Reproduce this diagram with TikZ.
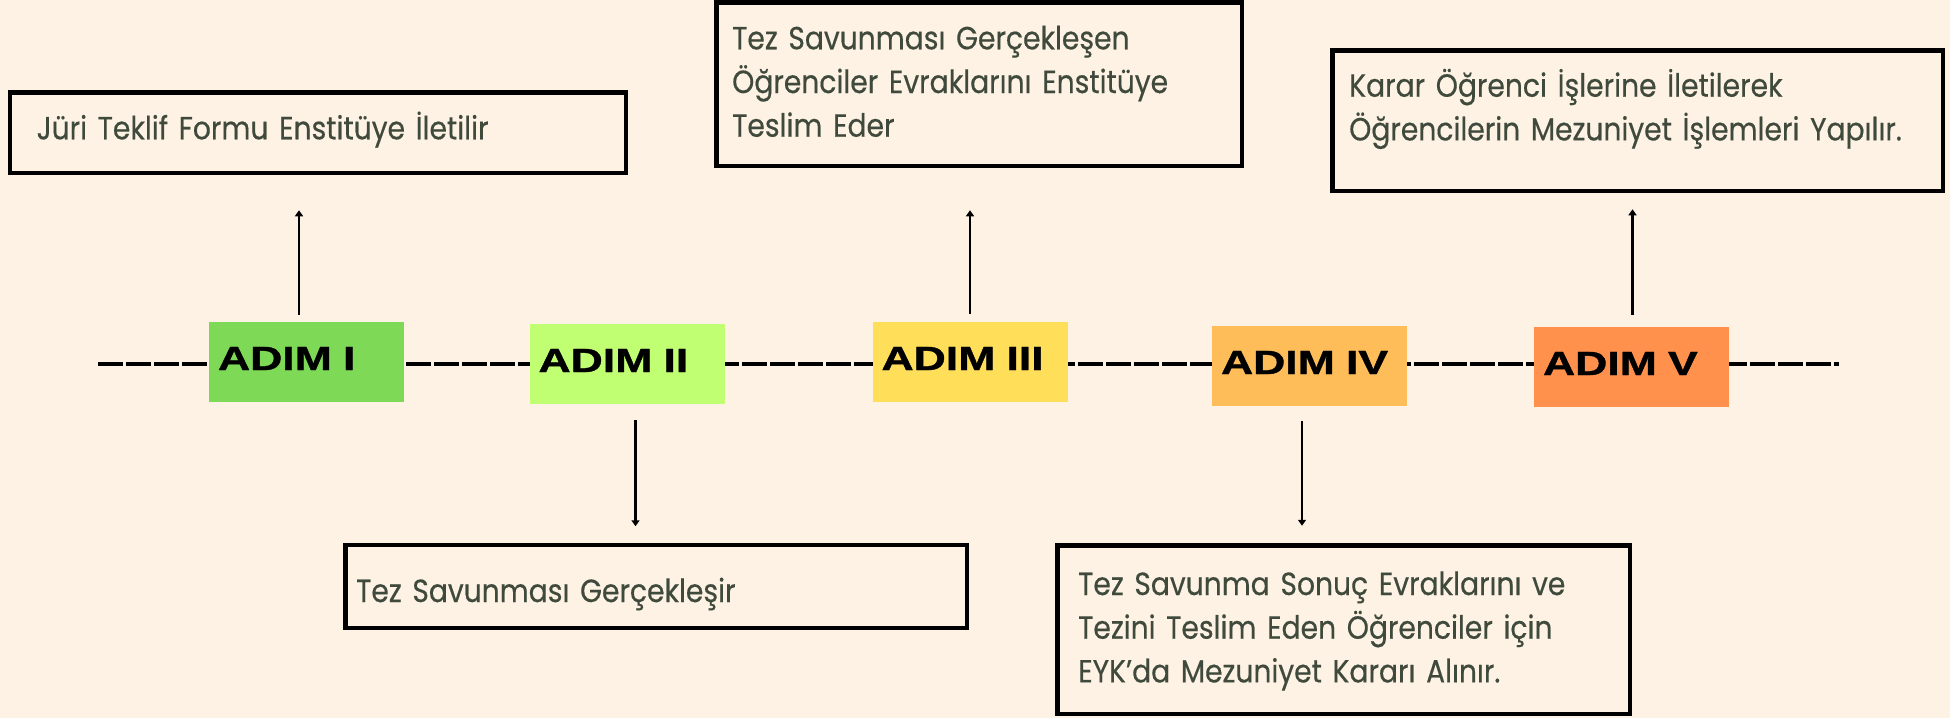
\documentclass[tikz,border=0pt]{standalone}
\usepackage{fontspec}
\usetikzlibrary{arrows.meta}
\newfontfamily\bodyfont{Poppins}[FakeStretch=0.88,FakeBold=0.4]
\newfontfamily\adimfont{Liberation Sans}[FakeStretch=1.33,FakeBold=1.2]
\definecolor{bg}{HTML}{FDF2E4}
\definecolor{txtc}{HTML}{3F4A3C}
\definecolor{cA}{HTML}{7ED957}
\definecolor{cB}{HTML}{C1FF72}
\definecolor{cC}{HTML}{FFDE59}
\definecolor{cD}{HTML}{FFBD59}
\definecolor{cE}{HTML}{FF914D}
\tikzset{
  adim/.style={rectangle, draw=none, minimum width=195pt, minimum height=80pt,
    inner xsep=9pt, inner ysep=0pt, text width=177pt, align=left,
    text height=24pt, text depth=8pt,
    font=\adimfont\bfseries\fontsize{33.5}{40}\selectfont, text=black},
  tbox/.style={rectangle, draw=black, line width=4.5pt, inner sep=0pt},
  txt/.style={anchor=base west, inner sep=0pt, text width=560pt, align=left,
    font=\bodyfont\fontsize{32}{43.7}\selectfont, text=txtc},
  arr/.style={line width=2.5pt, -{Triangle[width=8pt,length=6pt]}},
  tline/.style={line width=4pt, dash pattern=on 24.5pt off 3.5pt}
}
\begin{document}
\begin{tikzpicture}[x=1pt,y=-1pt]
\useasboundingbox (0,0) rectangle (1950,718);
\path[fill=bg] (0,0) rectangle (1950,718);
% timeline
\coordinate (ls) at (98,363.5);
\coordinate (le) at (1839,363.5);
\draw[tline] (ls) -- (le);
% steps
\node[adim, fill=cA] (a1) at (306.5,362) {ADIM I};
\node[adim, fill=cB] (a2) at (627,364) {ADIM II};
\node[adim, fill=cC] (a3) at (970,362) {ADIM III};
\node[adim, fill=cD] (a4) at (1309.5,366) {ADIM IV};
\node[adim, fill=cE] (a5) at (1631.5,367) {ADIM V};
% text boxes
\node[tbox, minimum width=616pt, minimum height=80.5pt] (b1) at (317.75,132.5) {};
\node[tbox, minimum width=621.5pt, minimum height=83pt] (b2) at (656,586.5) {};
\node[tbox, minimum width=525.5pt, minimum height=163.5pt] (b3) at (979,84) {};
\node[tbox, minimum width=572.5pt, minimum height=168.5pt] (b4) at (1343.5,629.5) {};
\node[tbox, minimum width=610.5pt, minimum height=140.5pt] (b5) at (1637.5,120.5) {};
% texts
\node[txt] (t1) at (36.5,139.3) {Jüri Teklif Formu Enstitüye İletilir};
\node[txt] (t2) at (356,602) {Tez Savunması Gerçekleşir};
\node[txt] (t3) at (732,49.3) {Tez Savunması Gerçekleşen\\Öğrenciler Evraklarını Enstitüye\\Teslim Eder};
\node[txt] (t4) at (1078,595) {Tez Savunma Sonuç Evraklarını ve\\Tezini Teslim Eden Öğrenciler için\\EYK’da Mezuniyet Kararı Alınır.};
\node[txt] (t5) at (1349,96.7) {Karar Öğrenci İşlerine İletilerek\\Öğrencilerin Mezuniyet İşlemleri Yapılır.};
% arrows
\draw[arr, shorten <=7pt, shorten >=35.25pt] ([xshift=-7.5pt]a1.north) -- ([xshift=-7.5pt]a1.north |- b1.south);
\draw[arr, shorten <=16pt, shorten >=16.5pt] ([xshift=8.5pt]a2.south) -- ([xshift=8.5pt]a2.south |- b2.north);
\draw[arr, shorten <=8pt, shorten >=42.25pt] (a3.north) -- (a3.north |- b3.south);
\draw[arr, shorten <=15pt, shorten >=17.25pt] ([xshift=-7.5pt]a4.south) -- ([xshift=-7.5pt]a4.south |- b4.north);
\draw[arr, shorten <=12pt, shorten >=16.25pt] ([xshift=1pt]a5.north) -- ([xshift=1pt]a5.north |- b5.south);
\end{tikzpicture}
\end{document}
